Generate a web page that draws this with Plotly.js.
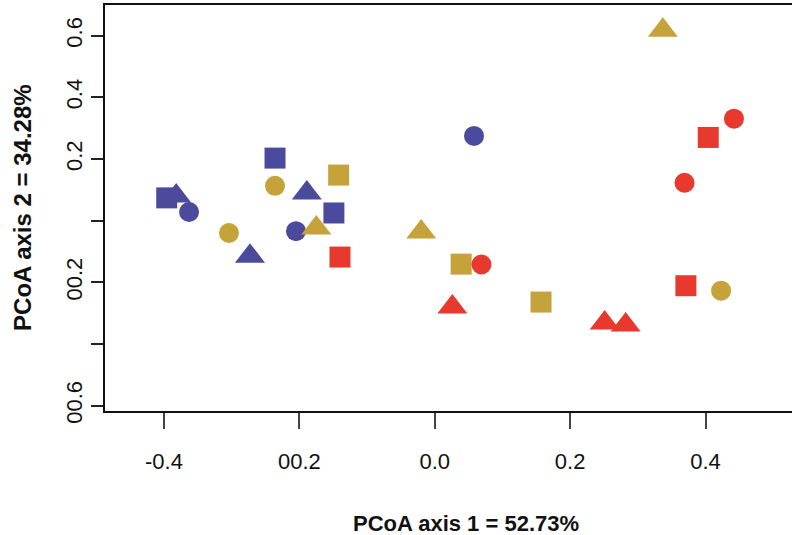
<!DOCTYPE html>
<html>
<head>
<meta charset="utf-8">
<script src="https://cdn.plot.ly/plotly-3.0.1.min.js"></script>
<style>html,body{margin:0;padding:0;background:#fff;}#chart{width:792px;height:535px;}</style>
</head>
<body>
<div id="chart"></div>
<script>
// Groups (colour) and shapes
var groupNames = ['Blue', 'Gold', 'Red'];
var groupColors = ['#4B4A9C', '#C5A23A', '#E8392F'];

// Blue group
var blueSquareX = [-0.396, -0.236, -0.149];
var blueSquareY = [0.074, 0.203, 0.025];
var blueCircleX = [-0.363, -0.205, 0.058];
var blueCircleY = [0.028, -0.034, 0.275];
var blueTriangleX = [-0.382, -0.189, -0.273];
var blueTriangleY = [0.080, 0.090, -0.115];

// Gold group
var goldSquareX = [-0.142, 0.039, 0.157];
var goldSquareY = [0.148, -0.141, -0.264];
var goldCircleX = [-0.236, -0.304, 0.423];
var goldCircleY = [0.113, -0.040, -0.227];
var goldTriangleX = [-0.175, -0.020, 0.337];
var goldTriangleY = [-0.024, -0.037, 0.618];

// Red group
var redSquareX = [-0.140, 0.404, 0.371];
var redSquareY = [-0.118, 0.270, -0.211];
var redCircleX = [0.069, 0.442, 0.369];
var redCircleY = [-0.142, 0.331, 0.123];
var redTriangleX = [0.026, 0.251, 0.282];
var redTriangleY = [-0.280, -0.332, -0.338];

// Tick labels
var xTickVals = [-0.4, -0.2, 0.0, 0.2, 0.4];
var xTickText = ['-0.4', '00.2', '0.0', '0.2', '0.4'];
var yTickVals = [0.6, 0.4, 0.2, 0.0, -0.2, -0.4, -0.6];
var yTickText = ['0.6', '0.4', '0.2', '', '00.2', '', '00.6'];

var xTitle = 'PCoA axis 1 = 52.73%';
var yTitle = 'PCoA axis 2 = 34.28%';

var sets = [
  [blueSquareX, blueSquareY, 0, 'square'], [blueCircleX, blueCircleY, 0, 'circle'], [blueTriangleX, blueTriangleY, 0, 'triangle-up'],
  [goldSquareX, goldSquareY, 1, 'square'], [goldCircleX, goldCircleY, 1, 'circle'], [goldTriangleX, goldTriangleY, 1, 'triangle-up'],
  [redSquareX, redSquareY, 2, 'square'], [redCircleX, redCircleY, 2, 'circle'], [redTriangleX, redTriangleY, 2, 'triangle-up']
];
var sizes = {'square': 21, 'circle': 20, 'triangle-up': 26};

var traces = sets.map(function(s) {
  return {
    type: 'scatter', mode: 'markers',
    x: s[0], y: s[1],
    name: groupNames[s[2]] + ' ' + s[3],
    marker: {symbol: s[3], size: sizes[s[3]], color: groupColors[s[2]], line: {width: 0}},
    showlegend: false, hoverinfo: 'x+y'
  };
});

var tickFont = {family: '"Liberation Sans", Arial, sans-serif', size: 22, color: '#111'};

var layout = {
  width: 792, height: 535,
  margin: {l: 105, r: 0, t: 5, b: 124, pad: 0},
  paper_bgcolor: '#fff', plot_bgcolor: '#fff',
  showlegend: false,
  xaxis: {
    range: [-0.48716, 0.52776], showgrid: false, zeroline: false,
    showline: true, linecolor: '#111', linewidth: 2, mirror: true,
    ticks: 'outside', ticklen: 16, tickwidth: 2, tickcolor: '#444',
    tickvals: xTickVals, ticktext: xTickText, tickfont: tickFont, ticklabelstandoff: 14
  },
  yaxis: {
    range: [-0.61732, 0.69958], showgrid: false, zeroline: false,
    showline: true, linecolor: '#111', linewidth: 2,
    ticks: 'outside', ticklen: 12, tickwidth: 2, tickcolor: '#222',
    tickvals: yTickVals, ticktext: yTickText, tickfont: tickFont, tickangle: -90
  },
  annotations: [
    {text: xTitle, xref: 'paper', yref: 'paper', x: 0.5255, y: -0.2759, xanchor: 'center', yanchor: 'middle', showarrow: false,
     font: {family: '"Liberation Sans", Arial, sans-serif', size: 22, color: '#111', weight: 'bold'}},
    {text: yTitle, xref: 'paper', yref: 'paper', x: -0.1194, y: 0.5025, xanchor: 'center', yanchor: 'middle', showarrow: false, textangle: -90,
     font: {family: '"Liberation Sans", Arial, sans-serif', size: 24, color: '#111', weight: 'bold'}}
  ]
};

Plotly.newPlot('chart', traces, layout, {displayModeBar: false, staticPlot: true});
</script>
</body>
</html>
